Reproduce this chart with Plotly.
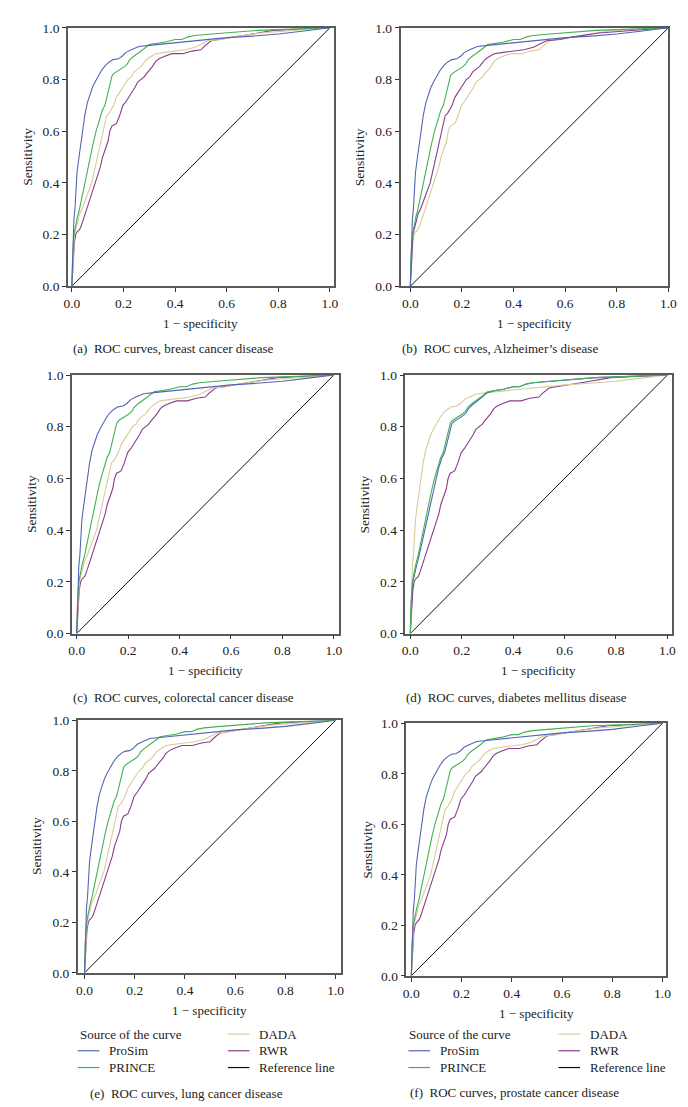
import plotly.graph_objects as go

W, H = 688, 1107

# ---------------- data ----------------
# Curve shape 1 (upper curve)
CURVE1_FPR = [0, 0.002, 0.005, 0.008, 0.012, 0.016, 0.02, 0.025, 0.03, 0.036, 0.043, 0.05, 0.06, 0.07, 0.08,
              0.09, 0.10, 0.115, 0.13, 0.145, 0.16, 0.18, 0.195, 0.21, 0.23, 0.26, 0.3, 0.35, 0.4, 0.5, 0.6,
              0.7, 0.8, 0.9, 1.0]
CURVE1_TPR = [0, 0.1, 0.2, 0.26, 0.3, 0.38, 0.44, 0.48, 0.52, 0.57, 0.62, 0.66, 0.71, 0.74, 0.77,
              0.79, 0.81, 0.835, 0.855, 0.868, 0.877, 0.88, 0.89, 0.905, 0.915, 0.928, 0.932, 0.937, 0.944,
              0.952, 0.962, 0.968, 0.976, 0.988, 1.0]

# Curve shape 2 (second curve)
CURVE2_FPR = [0, 0.003, 0.008, 0.015, 0.022, 0.03, 0.04, 0.052, 0.062, 0.071, 0.082, 0.094, 0.105, 0.118,
              0.128, 0.136, 0.143, 0.15, 0.156, 0.165, 0.173, 0.185, 0.204, 0.215, 0.223, 0.24, 0.255, 0.275,
              0.3, 0.33, 0.363, 0.4, 0.426, 0.45, 0.477, 0.53, 0.59, 0.65, 0.72, 0.8, 0.9, 1.0]
CURVE2_TPR = [0, 0.12, 0.2, 0.24, 0.27, 0.3, 0.35, 0.4, 0.45, 0.5, 0.55, 0.6, 0.64, 0.68, 0.7, 0.73, 0.76,
              0.79, 0.815, 0.825, 0.83, 0.84, 0.85, 0.86, 0.875, 0.89, 0.9, 0.915, 0.935, 0.94, 0.945, 0.955,
              0.955, 0.965, 0.97, 0.975, 0.98, 0.985, 0.99, 0.993, 0.997, 1.0]

# Curve shape 2b (ProSim in diabetes panel, just right of shape 2)
CURVE2B_FPR = [0, 0.004, 0.01, 0.018, 0.026, 0.034, 0.045, 0.057, 0.067, 0.077, 0.088, 0.1, 0.11, 0.123,
               0.133, 0.141, 0.148, 0.155, 0.161, 0.17, 0.178, 0.19, 0.208, 0.218, 0.226, 0.242, 0.256,
               0.276, 0.3, 0.33, 0.363, 0.4, 0.426, 0.45, 0.477, 0.53, 0.59, 0.65, 0.72, 0.8, 0.9, 1.0]
CURVE2B_TPR = [0, 0.12, 0.2, 0.24, 0.27, 0.3, 0.35, 0.4, 0.45, 0.5, 0.55, 0.6, 0.64, 0.68, 0.7, 0.73, 0.76,
               0.79, 0.81, 0.82, 0.825, 0.835, 0.845, 0.855, 0.87, 0.885, 0.895, 0.912, 0.932, 0.94, 0.945,
               0.955, 0.955, 0.965, 0.97, 0.975, 0.98, 0.985, 0.99, 0.993, 0.997, 1.0]

# Curve shape 3 (third curve)
CURVE3_FPR = [0, 0.005, 0.01, 0.02, 0.03, 0.04, 0.05, 0.062, 0.077, 0.088, 0.099, 0.11, 0.122, 0.13, 0.135,
              0.145, 0.155, 0.162, 0.172, 0.185, 0.2, 0.217, 0.23, 0.242, 0.255, 0.268, 0.28, 0.287, 0.3,
              0.325, 0.36, 0.4, 0.44, 0.477, 0.5, 0.528, 0.58, 0.63, 0.73, 0.85, 1.0]
CURVE3_TPR = [0, 0.1, 0.2, 0.24, 0.28, 0.3, 0.33, 0.36, 0.4, 0.45, 0.5, 0.55, 0.6, 0.64, 0.66, 0.67, 0.69,
              0.7, 0.73, 0.75, 0.77, 0.8, 0.81, 0.83, 0.84, 0.85, 0.865, 0.875, 0.885, 0.9, 0.905, 0.91,
              0.915, 0.925, 0.935, 0.95, 0.955, 0.965, 0.98, 0.99, 1.0]

# Curve shape 4 (lowest curve)
CURVE4_FPR = [0, 0.005, 0.01, 0.015, 0.02, 0.03, 0.035, 0.045, 0.058, 0.07, 0.08, 0.09, 0.1, 0.11, 0.119,
              0.13, 0.14, 0.147, 0.155, 0.165, 0.173, 0.185, 0.198, 0.21, 0.22, 0.23, 0.245, 0.255, 0.268,
              0.28, 0.287, 0.3, 0.312, 0.325, 0.338, 0.36, 0.388, 0.43, 0.465, 0.5, 0.515, 0.54, 0.605,
              0.693, 0.78, 0.9, 1.0]
CURVE4_TPR = [0, 0.1, 0.17, 0.2, 0.21, 0.22, 0.23, 0.26, 0.3, 0.33, 0.36, 0.4, 0.43, 0.46, 0.5, 0.53, 0.56,
              0.6, 0.62, 0.625, 0.63, 0.66, 0.7, 0.715, 0.73, 0.75, 0.77, 0.79, 0.8, 0.81, 0.82, 0.835,
              0.85, 0.87, 0.88, 0.89, 0.9, 0.9, 0.91, 0.915, 0.93, 0.95, 0.96, 0.975, 0.99, 0.995, 1.0]

REF_LINE = [0, 1]

SERIES = ["ProSim", "PRINCE", "DADA", "RWR"]
COLORS = {"ProSim": "#5366b3", "PRINCE": "#43b152", "DADA": "#dacb9a", "RWR": "#8a3b8c",
          "Reference line": "#111111"}

CAPTIONS = [
    "(a)\u00a0 ROC curves, breast cancer disease",
    "(b)\u00a0 ROC curves, Alzheimer\u2019s disease",
    "(c)\u00a0 ROC curves, colorectal cancer disease",
    "(d)\u00a0 ROC curves, diabetes mellitus disease",
    "(e)\u00a0 ROC curves, lung cancer disease",
    "(f)\u00a0 ROC curves, prostate cancer disease",
]

SHAPES = {
    "c1": (CURVE1_FPR, CURVE1_TPR),
    "c2": (CURVE2_FPR, CURVE2_TPR),
    "c2b": (CURVE2B_FPR, CURVE2B_TPR),
    "c3": (CURVE3_FPR, CURVE3_TPR),
    "c4": (CURVE4_FPR, CURVE4_TPR),
}
# which read curve belongs to which method, per panel (drawing order)
PANEL_CURVES = [
    [("RWR", "c4"), ("DADA", "c3"), ("PRINCE", "c2"), ("ProSim", "c1")],
    [("DADA", "c4"), ("RWR", "c3"), ("PRINCE", "c2"), ("ProSim", "c1")],
    [("RWR", "c4"), ("DADA", "c3"), ("PRINCE", "c2"), ("ProSim", "c1")],
    [("RWR", "c4"), ("DADA", "c1"), ("ProSim", "c2b"), ("PRINCE", "c2")],
    [("RWR", "c4"), ("DADA", "c3"), ("PRINCE", "c2"), ("ProSim", "c1")],
    [("RWR", "c4"), ("DADA", "c3"), ("PRINCE", "c2"), ("ProSim", "c1")],
]

# ---------------- layout geometry (pixels) ----------------
PANELS = [
    dict(l=57, r=328, t=13, b=275, xr=[-0.0152, 1.0152], ytx=15, cap_x=165, cap_y=338),
    dict(l=396, r=669, t=13, b=275, xr=[-0.038, 1.0], ytx=354, cap_x=497, cap_y=338),
    dict(l=61, r=333, t=365, b=627, xr=[-0.019, 1.019], ytx=20, cap_x=175, cap_y=692),
    dict(l=401, r=673, t=365, b=627, xr=[-0.019, 1.019], ytx=359, cap_x=514, cap_y=692),
    dict(l=67, r=335, t=715, b=971, xr=[-0.027, 1.02], ytx=25, cap_x=178, cap_y=1093),
    dict(l=402, r=667, t=718, b=974, xr=[-0.0195, 1.0156], ytx=362, cap_x=512, cap_y=1092),
]

FONT = "Liberation Serif"
TXT = "#222222"


def px_x(p):
    return p / W


def px_y(p):
    return 1 - p / H


fig = go.Figure()
annotations = []
shapes = []

for i, pan in enumerate(PANELS):
    n = i + 1
    xa = "x" if n == 1 else f"x{n}"
    ya = "y" if n == 1 else f"y{n}"
    fig.add_trace(go.Scatter(x=REF_LINE, y=REF_LINE, mode="lines", xaxis=xa, yaxis=ya,
                             line=dict(color=COLORS["Reference line"], width=1), showlegend=False,
                             hoverinfo="skip"))
    for name, key in PANEL_CURVES[i]:
        fx, ty = SHAPES[key]
        fig.add_trace(go.Scatter(x=fx, y=ty, mode="lines", name=name, xaxis=xa, yaxis=ya,
                                 line=dict(color=COLORS[name], width=1.1), showlegend=False))
    axkw = dict(showgrid=False, zeroline=False, showline=True, mirror=True, linecolor="#5a5a5a",
                linewidth=1.5, ticks="outside", ticklen=4, tickwidth=1, tickcolor="#333333",
                tickvals=[0, 0.2, 0.4, 0.6, 0.8, 1.0], tickformat=".1f",
                tickfont=dict(family=FONT, size=13.5, color=TXT), fixedrange=True)
    fig.layout[("xaxis" if n == 1 else f"xaxis{n}")] = dict(
        domain=[px_x(pan["l"]), px_x(pan["r"])], range=pan["xr"], anchor=ya, **axkw)
    fig.layout[("yaxis" if n == 1 else f"yaxis{n}")] = dict(
        domain=[px_y(pan["b"]), px_y(pan["t"])], range=[0, 1], anchor=xa, **axkw)
    annotations.append(dict(text="1 \u2212 specificity", xref="paper", yref="paper",
                            x=px_x((pan["l"] + pan["r"]) / 2), y=px_y(pan["b"] + 38),
                            showarrow=False, font=dict(family=FONT, size=13, color=TXT),
                            xanchor="center", yanchor="middle"))
    annotations.append(dict(text="Sensitivity", xref="paper", yref="paper",
                            x=px_x(pan["ytx"]), y=px_y((pan["t"] + pan["b"]) / 2), textangle=-90,
                            showarrow=False, font=dict(family=FONT, size=13.5, color=TXT),
                            xanchor="center", yanchor="middle"))
    annotations.append(dict(text=CAPTIONS[i], xref="paper", yref="paper",
                            x=px_x(pan["cap_x"]), y=px_y(pan["cap_y"]),
                            showarrow=False, font=dict(family=FONT, size=13, color=TXT),
                            xanchor="center", yanchor="middle"))

# legends under panels (e) and (f)
LEGEND_TITLE = "Source of the curve"
LEGEND_COL1 = ["ProSim", "PRINCE"]
LEGEND_COL2 = ["DADA", "RWR", "Reference line"]
for (tx, c1_l, c2_l) in [(67, 67, 220), (403, 404, 557)]:
    rows = [1033, 1050, 1067]
    annotations.append(dict(text=LEGEND_TITLE, xref="paper", yref="paper",
                            x=px_x(tx), y=px_y(rows[0]), showarrow=False, xanchor="left",
                            yanchor="middle", font=dict(family=FONT, size=13, color=TXT)))
    for j, nm in enumerate(LEGEND_COL1):
        ry = rows[j + 1]
        shapes.append(dict(type="line", xref="paper", yref="paper", x0=px_x(c1_l), x1=px_x(c1_l + 22),
                           y0=px_y(ry), y1=px_y(ry), line=dict(color=COLORS[nm], width=1.2)))
        annotations.append(dict(text=nm, xref="paper", yref="paper", x=px_x(c1_l + 30), y=px_y(ry),
                                showarrow=False, xanchor="left", yanchor="middle",
                                font=dict(family=FONT, size=13, color=TXT)))
    for j, nm in enumerate(LEGEND_COL2):
        ry = rows[j]
        shapes.append(dict(type="line", xref="paper", yref="paper", x0=px_x(c2_l), x1=px_x(c2_l + 22),
                           y0=px_y(ry), y1=px_y(ry), line=dict(color=COLORS[nm], width=1.2)))
        annotations.append(dict(text=nm, xref="paper", yref="paper", x=px_x(c2_l + 30), y=px_y(ry),
                                showarrow=False, xanchor="left", yanchor="middle",
                                font=dict(family=FONT, size=13, color=TXT)))

fig.update_layout(width=W, height=H, margin=dict(l=0, r=0, t=0, b=0), paper_bgcolor="white",
                  plot_bgcolor="white", showlegend=False, annotations=annotations, shapes=shapes,
                  font=dict(family=FONT, size=13, color=TXT))

fig.write_html("out.html", config={"displayModeBar": False})
